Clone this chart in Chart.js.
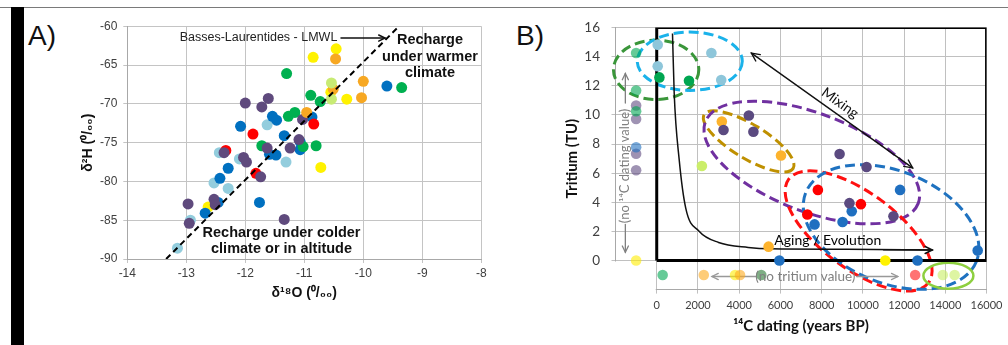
<!DOCTYPE html>
<html><head><meta charset="utf-8">
<script src="https://cdn.jsdelivr.net/npm/chart.js@4.4.1/dist/chart.umd.min.js"></script>
<style>
html,body{margin:0;padding:0;background:#fff;width:1008px;height:345px;overflow:hidden;position:relative;}
#topline{position:absolute;left:0;top:7px;width:1008px;height:1px;background:#7a7a7a;}
#bar{position:absolute;left:11px;top:7px;width:13px;height:338px;background:#000;}
.lbl{position:absolute;font-family:'Liberation Sans',Arial,sans-serif;font-size:28px;line-height:28px;color:#111;}
#cA{position:absolute;left:24px;top:8px;width:476px;height:337px;}
#cB{position:absolute;left:500px;top:8px;width:508px;height:337px;}
</style></head><body>
<div id="topline"></div><div id="bar"></div>
<div class="lbl" style="left:28px;top:22px">A)</div>
<div class="lbl" style="left:516px;top:22px">B)</div>
<canvas id="cA" width="476" height="337"></canvas>
<canvas id="cB" width="508" height="337"></canvas>
<script>
// ---------- Panel A data (δ18O, δ2H) ----------
const aBlue = [[-9.60,-67.7],[-10.87,-71.7],[-11.54,-71.6],[-11.47,-72.1],[-12.08,-72.9],[-11.34,-74.1],[-11.07,-74.9],[-11.07,-75.9],[-11.59,-76.5],[-11.48,-76.6],[-12.29,-78.3],[-12.43,-79.6],[-11.76,-82.7],[-12.46,-82.7],[-12.68,-84.1]];
const aLightBlue = [[-11.63,-72.7],[-11.31,-77.5],[-12.44,-76.3],[-12.10,-77.1],[-12.53,-80.2],[-12.29,-80.9],[-12.93,-85.0],[-13.15,-88.6]];
const aPurple = [[-12.0,-69.9],[-11.61,-69.3],[-11.72,-70.4],[-11.03,-72.0],[-11.09,-74.6],[-11.63,-75.7],[-11.24,-75.7],[-12.36,-76.3],[-12.03,-76.9],[-11.98,-77.5],[-11.74,-79.4],[-12.53,-82.3],[-12.51,-83.0],[-12.97,-82.9],[-12.95,-85.4],[-11.34,-84.9]];
const aGreen = [[-11.30,-66.1],[-9.35,-67.9],[-10.89,-68.9],[-10.73,-69.7],[-11.27,-71.6],[-11.16,-71.1],[-11.72,-75.4],[-11.02,-75.5],[-10.80,-75.4]];
const aRed = [[-10.84,-72.6],[-11.87,-73.9],[-12.33,-76.0],[-11.82,-78.95]];
const aYellow = [[-10.85,-64.0],[-10.46,-62.9],[-10.28,-69.4],[-10.72,-78.2],[-12.63,-83.3],[-10.55,-68.5]];
const aOrange = [[-10.47,-64.2],[-10.0,-67.1],[-10.03,-69.2],[-10.96,-71.1],[-10.51,-68.1]];
const aLightGreen = [[-10.54,-67.3],[-10.54,-69.4]];
const aLMWL = [[-13.342,-90],[-9.395,-60]];
const aXTicks = {min:-14, max:-8, step:1};
const aYTicks = {min:-90, max:-60, step:5};

// ---------- Panel B data (14C age, tritium) ----------
const bBlue = [[11805,4.85],[9460,3.38],[7656,2.48],[9015,2.64],[15570,0.68],[5950,0],[12651,0]];
const bPurple = [[3240,8.96],[4469,9.96],[4690,8.84],[8871,7.32],[10178,6.42],[9349,3.94],[11484,3.04]];
const bRed = [[7818,4.85],[9905,3.87],[7307,3.16]];
const bOrange = [[3158,9.55],[6029,7.21],[5426,0.95]];
const bLightBlue = [[48,14.83],[48,13.34],[2651,14.25],[3129,12.4]];
const bGreen = [[129,12.58],[1565,12.35]];
const bLightGreen = [[2190,6.49]];
const bYellow = [[11087,0]];
// samples with no 14C value (x = -1000) or no tritium value (y = -1)
const bNoPurple = [[-1000,10.65],[-1000,9.72],[-1000,7.33],[-1000,6.2]];
const bNoGreen = [[-1000,14.25],[-1000,11.68],[-1000,10.25],[287,-1.0]];
const bNoDarkGreen = [[5072,-1.0]];
const bNoBlue = [[-1000,7.78]];
const bNoYellow = [[-1000,0],[3800,-1.0]];
const bNoOrange = [[2283,-1.0],[4040,-1.0]];
const bNoRed = [[12537,-1.0]];
const bNoLightGreen = [[13877,-1.0],[14451,-1.0]];
const bBox = [[0,0],[0,16],[16000,16],[16000,0],[0,0]];
const bAgingCurve = [[765,15.6],[847,11.5],[1086,6.98],[1407,3.6],[2043,2.03],[3000,1.24],[4436,0.9],[5536,0.8],[9220,0.77],[13370,0.72]];
const bXTicks = {min:-2000, max:16000, step:2000};
const bYTicks = {min:-2, max:16, step:2};

// ---------- annotations ----------
const FA = "'Liberation Sans', Arial, sans-serif";
const FB = "Lato, 'Open Sans', sans-serif";
const textsA = [
  {t:'Basses-Laurentides - LMWL', x:-10.44, y:-61.51, align:'right', font:'12.5px '+FA, color:'#222'},
  {t:'Recharge', x:-8.87, y:-61.77, font:'bold 14.5px '+FA, color:'#111'},
  {t:'under warmer', x:-8.87, y:-64.0, font:'bold 14.5px '+FA, color:'#111'},
  {t:'climate', x:-8.87, y:-66.06, font:'bold 14.5px '+FA, color:'#111'},
  {t:'Recharge under colder', x:-11.386, y:-86.65, font:'bold 14.5px '+FA, color:'#111'},
  {t:'climate or in altitude', x:-11.386, y:-88.71, font:'bold 14.5px '+FA, color:'#111'}
];
const arrowsA = [{from:[-10.378,-61.51], to:[-9.632,-61.51], color:'#111', w:1.5, size:7}];

const ellipsesB = [
  {x:-29, y:13.1, rx:42.7, ry:29.7, rot:0, color:'#3A963A', dash:[10,5], w:3},
  {x:1603, y:13.69, rx:52.5, ry:29.2, rot:0, color:'#1AB2EA', dash:[10,5], w:3},
  {x:4460, y:8.18, rx:52, ry:17, rot:31.2, color:'#BF9000', dash:[10,5], w:3},
  {x:7522, y:6.73, rx:114, ry:49, rot:21, color:'#7030A0', dash:[10,5], w:3},
  {x:9795, y:2.03, rx:87, ry:38, rot:36.5, color:'#FF1010', dash:[10,5], w:3},
  {x:11369, y:2.30, rx:92, ry:56, rot:22, color:'#1F72C0', dash:[10,5], w:3},
  {x:14149, y:-1.05, rx:25, ry:13, rot:0, color:'#8DCF3F', dash:[], w:2.5}
];
const arrowsB = [
  {from:[4594,14.25], to:[12413,6.36], color:'#111', w:1.4, size:9, both:true},
  {from:[-1522,10.82], to:[-1522,12.85], color:'#808080', w:1.3, size:7},
  {from:[-1522,2.48], to:[-1522,0.56], color:'#808080', w:1.3, size:7},
  {from:[4818,-1.1], to:[2680,-1.1], color:'#999', w:1.3, size:7},
  {from:[9694,-1.1], to:[11694,-1.1], color:'#999', w:1.3, size:7},
  {from:[11000,0.73], to:[13370,0.72], color:'#111', w:1.5, size:8}
];
const textsB = [
  {t:'Mixing', x:8900, y:10.82, angle:35.5, font:'14px '+FB, color:'#111'},
  {t:'Aging / Evolution', x:8300, y:1.35, font:'14px '+FB, color:'#000'},
  {t:'(no tritium value)', x:7211, y:-1.08, font:'13.5px '+FB, color:'#808080'},
  {t:'(no \u00b9\u2074C dating value)', x:-1569, y:6.49, angle:-90, font:'13px '+FB, color:'#808080'}
];

// ---------- helpers ----------
const pts = a => a.map(p => ({x:p[0], y:p[1]}));
function head(ctx,x1,y1,x2,y2,s){
  const a = Math.atan2(y2-y1,x2-x1);
  ctx.beginPath();
  ctx.moveTo(x2 - s*Math.cos(a-0.45), y2 - s*Math.sin(a-0.45));
  ctx.lineTo(x2,y2);
  ctx.lineTo(x2 - s*Math.cos(a+0.45), y2 - s*Math.sin(a+0.45));
  ctx.stroke();
}
function drawArrows(chart, list){
  const {ctx, scales:{x,y}} = chart;
  ctx.save(); ctx.setLineDash([]); ctx.lineCap='round';
  for (const a of list){
    const x1=x.getPixelForValue(a.from[0]), y1=y.getPixelForValue(a.from[1]);
    const x2=x.getPixelForValue(a.to[0]), y2=y.getPixelForValue(a.to[1]);
    ctx.strokeStyle=a.color; ctx.lineWidth=a.w;
    ctx.beginPath(); ctx.moveTo(x1,y1); ctx.lineTo(x2,y2); ctx.stroke();
    head(ctx,x1,y1,x2,y2,a.size);
    if (a.both) head(ctx,x2,y2,x1,y1,a.size);
  }
  ctx.restore();
}
function drawTexts(chart, list){
  const {ctx, scales:{x,y}} = chart;
  ctx.save();
  for (const t of list){
    ctx.save();
    ctx.translate(x.getPixelForValue(t.x), y.getPixelForValue(t.y));
    if (t.angle) ctx.rotate(t.angle*Math.PI/180);
    ctx.font=t.font; ctx.fillStyle=t.color;
    ctx.textAlign=t.align||'center'; ctx.textBaseline='middle';
    ctx.fillText(t.t,0,0);
    ctx.restore();
  }
  ctx.restore();
}
function scatterSet(data, color, order, r){
  return {data:pts(data), backgroundColor:color, pointBackgroundColor:color, pointBorderWidth:0,
          borderWidth:0, pointRadius:r, pointHoverRadius:r, order:order};
}

// ---------- Chart A ----------
const annA = {
  id:'annA',
  afterDatasetsDraw(chart){ drawArrows(chart, arrowsA); drawTexts(chart, textsA); }
};
const aSets = [
  [aYellow,'#FFF200'],[aLightBlue,'#93CDDD'],[aBlue,'#0070C0'],[aGreen,'#00B050'],
  [aRed,'#FF0000'],[aPurple,'#5F4A7D'],[aOrange,'#F7A823'],[aLightGreen,'#C8EB74']
];
const dsA = aSets.map((s,i) => scatterSet(s[0], s[1], 20-i, 5.5));
dsA.push({data:pts(aLMWL), showLine:true, borderColor:'#000', borderWidth:2, borderDash:[6,4], pointRadius:0, pointHoverRadius:0, fill:false, order:0});

new Chart(document.getElementById('cA'), {
  type:'scatter',
  data:{datasets:dsA},
  options:{
    responsive:false, animation:false, events:[],
    layout:{padding:{top:18.3,right:18.7,left:0,bottom:0}},
    plugins:{legend:{display:false}, tooltip:{enabled:false}},
    scales:{
      x:{type:'linear', min:aXTicks.min, max:aXTicks.max,
         ticks:{stepSize:aXTicks.step, color:'#404040', font:{family:FA,size:12}, padding:3, autoSkip:false, maxRotation:0},
         grid:{color:'#c4c4c4', tickLength:4, lineWidth:1},
         border:{color:'#a8a8a8'},
         title:{display:true, text:'δ¹⁸O (⁰/₀₀)', color:'#111', font:{family:FA,size:14,weight:'bold'}, padding:{top:0,bottom:43.9}},
         afterFit(s){ s.height = 86; }},
      y:{type:'linear', min:aYTicks.min, max:aYTicks.max,
         ticks:{stepSize:aYTicks.step, color:'#404040', font:{family:FA,size:12}, padding:6, autoSkip:false},
         grid:{color:'#c4c4c4', tickLength:4, lineWidth:1},
         border:{color:'#a8a8a8'},
         title:{display:true, text:'δ²H (⁰/₀₀)', color:'#111', font:{family:FA,size:14,weight:'bold'}, padding:{top:55.6,bottom:0}},
         afterFit(s){ s.width = 103.3; }}
    }
  },
  plugins:[annA]
});

// ---------- Chart B ----------
const annB = {
  id:'annB',
  beforeDatasetsDraw(chart){
    const {ctx, chartArea:ca, scales:{x,y}} = chart;
    ctx.save();
    const x0 = x.getPixelForValue(0), y0 = y.getPixelForValue(0);
    ctx.fillStyle = '#fff';
    ctx.fillRect(ca.left-6, y0+1, (x0-1)-(ca.left-6), (ca.bottom+6)-(y0+1));
    for (const e of ellipsesB){
      ctx.beginPath();
      ctx.ellipse(x.getPixelForValue(e.x), y.getPixelForValue(e.y), e.rx, e.ry, e.rot*Math.PI/180, 0, 2*Math.PI);
      ctx.setLineDash(e.dash); ctx.lineWidth = e.w; ctx.strokeStyle = e.color; ctx.stroke();
    }
    ctx.restore();
    drawArrows(chart, arrowsB);
  },
  afterDatasetsDraw(chart){ drawTexts(chart, textsB); }
};
const bSets = [
  [bNoPurple,'rgba(95,75,128,0.6)'],[bNoGreen,'rgba(0,166,81,0.6)'],[bNoDarkGreen,'rgba(40,120,50,0.6)'],
  [bNoBlue,'rgba(31,111,192,0.6)'],[bNoYellow,'rgba(255,236,0,0.6)'],[bNoOrange,'rgba(253,170,30,0.6)'],
  [bNoRed,'rgba(255,0,0,0.55)'],[bNoLightGreen,'rgba(200,238,100,0.6)'],
  [bLightBlue,'#8EC6DA'],[bGreen,'#00A651'],[bLightGreen,'#CBEE6A'],[bYellow,'#FFF200'],
  [bOrange,'#FDB32D'],[bRed,'#FF0000'],[bBlue,'#1F6FC0'],[bPurple,'#5B4A80']
];
const dsB = bSets.map((s,i) => scatterSet(s[0], s[1], 40-i, 5.3));
dsB.push({data:pts(bBox), showLine:true, borderColor:'#000', borderWidth:3, borderJoinStyle:'miter', pointRadius:0, pointHoverRadius:0, fill:false, order:60});
dsB.push({data:pts(bAgingCurve), showLine:true, borderColor:'#111', borderWidth:1.5, cubicInterpolationMode:'monotone', pointRadius:0, pointHoverRadius:0, fill:false, order:59});

new Chart(document.getElementById('cB'), {
  type:'scatter',
  data:{datasets:dsB},
  options:{
    responsive:false, animation:false, events:[],
    layout:{padding:{top:15.3,right:16,left:0,bottom:0}},
    plugins:{legend:{display:false}, tooltip:{enabled:false}},
    scales:{
      x:{type:'linear', min:bXTicks.min, max:bXTicks.max,
         ticks:{stepSize:bXTicks.step, color:'#404040', font:{family:FB,size:11}, padding:5.5, autoSkip:false, maxRotation:0,
                callback:v => v < 0 ? '' : String(v)},
         grid:{color:'#c0c0c0', tickLength:4, lineWidth:1},
         border:{color:'#a8a8a8'},
         title:{display:true, text:'¹⁴C dating (years BP)', color:'#111', font:{family:FB,size:15,weight:'bold'}, padding:{top:0,bottom:10.3}},
         afterFit(s){ s.height = 55.4; }},
      y:{type:'linear', min:bYTicks.min, max:bYTicks.max,
         ticks:{stepSize:bYTicks.step, color:'#404040', font:{family:FB,size:13.5}, padding:11.5, autoSkip:false,
                callback:v => v < 0 ? '' : String(v)},
         grid:{color:'#c0c0c0', tickLength:4, lineWidth:1},
         border:{color:'#a8a8a8'},
         title:{display:true, text:'Tritium (TU)', color:'#111', font:{family:FB,size:15,weight:'bold'}, padding:{top:62.7,bottom:0}},
         afterFit(s){ s.width = 115.5; }}
    }
  },
  plugins:[annB]
});
</script>
</body></html>
